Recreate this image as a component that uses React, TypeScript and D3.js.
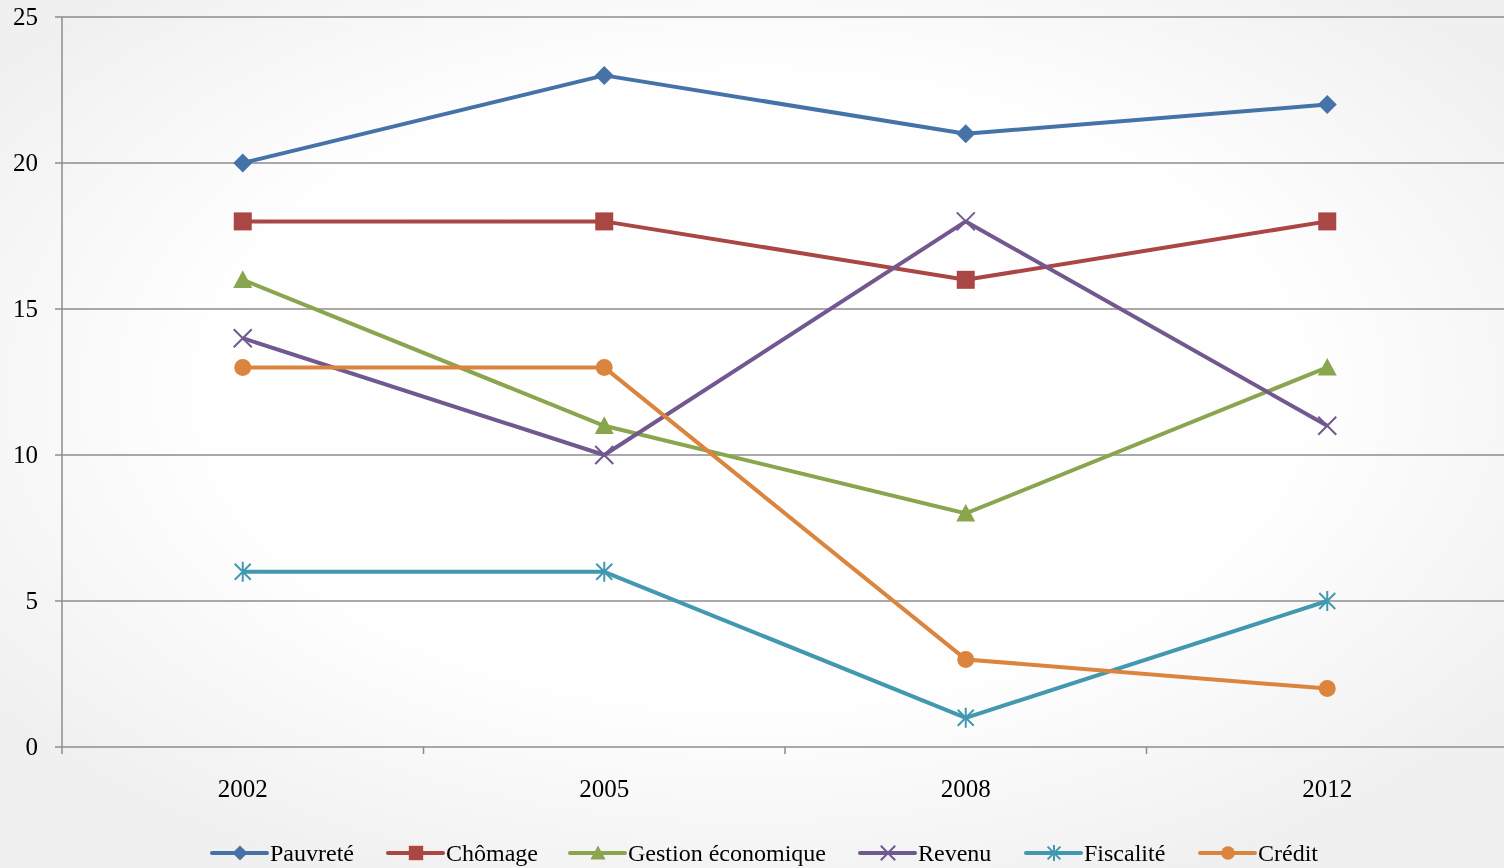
import * as React from 'react';
import * as d3 from 'd3';

const YEARS = ['2002', '2005', '2008', '2012'];
const Y_TICKS = [0, 5, 10, 15, 20, 25];

const SERIES_NAMES = ['Pauvreté', 'Chômage', 'Gestion économique', 'Revenu', 'Fiscalité', 'Crédit'];
const PAUVRETE = [20, 23, 21, 22];
const CHOMAGE = [18, 18, 16, 18];
const GESTION = [16, 11, 8, 13];
const REVENU = [14, 10, 18, 11];
const FISCALITE = [6, 6, 1, 5];
const CREDIT = [13, 13, 3, 2];

const COLORS = ['#4572a7', '#aa4643', '#89a54e', '#71588f', '#4198af', '#db843d'];
const MARKERS = ['diamond', 'square', 'triangle', 'x', 'star', 'circle'];
const LEGEND_X = [212, 388, 570, 860, 1026, 1200];

const WIDTH = 1504;
const HEIGHT = 868;
const FONT = '"Liberation Serif", "Times New Roman", serif';

const drawMarker = (
    g: d3.Selection<SVGGElement, unknown, null, undefined>,
    kind: string,
    cx: number,
    cy: number,
    color: string,
    k = 1
) => {
    if (kind === 'diamond') {
        const r = 9.5 * k;
        g.append('path')
            .attr('d', `M${cx},${cy - r}L${cx + r},${cy}L${cx},${cy + r}L${cx - r},${cy}Z`)
            .attr('fill', color);
    } else if (kind === 'square') {
        const r = 9 * k;
        g.append('rect')
            .attr('x', cx - r)
            .attr('y', cy - r)
            .attr('width', 2 * r)
            .attr('height', 2 * r)
            .attr('fill', color);
    } else if (kind === 'triangle') {
        const r = 9.5 * k;
        g.append('path')
            .attr('d', `M${cx},${cy - r}L${cx + r},${cy + r * 0.85}L${cx - r},${cy + r * 0.85}Z`)
            .attr('fill', color);
    } else if (kind === 'x') {
        const r = 9 * k;
        g.append('path')
            .attr('d', `M${cx - r},${cy - r}L${cx + r},${cy + r}M${cx - r},${cy + r}L${cx + r},${cy - r}`)
            .attr('stroke', color)
            .attr('stroke-width', 2);
    } else if (kind === 'star') {
        const r = 8 * k;
        g.append('path')
            .attr(
                'd',
                `M${cx - r},${cy - r}L${cx + r},${cy + r}M${cx - r},${cy + r}L${cx + r},${cy - r}M${cx},${cy - r * 1.25}L${cx},${cy + r * 1.25}`
            )
            .attr('stroke', color)
            .attr('stroke-width', 2);
    } else {
        g.append('circle').attr('cx', cx).attr('cy', cy).attr('r', 8.5 * k).attr('fill', color);
    }
};

export default function App() {
    const svgRef = React.useRef<SVGSVGElement>(null);

    React.useEffect(() => {
        const svg = d3.select(svgRef.current);
        svg.selectAll('*').remove();

        const SERIES = [PAUVRETE, CHOMAGE, GESTION, REVENU, FISCALITE, CREDIT];

        /** background */
        const defs = svg.append('defs');
        const grad = defs
            .append('radialGradient')
            .attr('id', 'bg')
            .attr('cx', '50%')
            .attr('cy', '45%')
            .attr('r', '62%');
        grad.append('stop').attr('offset', '0%').attr('stop-color', '#ffffff');
        grad.append('stop').attr('offset', '60%').attr('stop-color', '#fefefe');
        grad.append('stop').attr('offset', '100%').attr('stop-color', '#f0f0f0');
        svg.append('rect').attr('width', WIDTH).attr('height', HEIGHT).attr('fill', 'url(#bg)');

        /** scales */
        const x = d3.scaleBand<string>().domain(YEARS).range([62, 1508]);
        const y = d3.scaleLinear().domain([0, 25]).range([747, 17]);
        const cx = (d: string) => x(d)! + x.bandwidth() / 2;

        /** grid */
        const grid = svg.append('g');
        grid.selectAll('line')
            .data(Y_TICKS)
            .enter()
            .append('line')
            .attr('x1', 55)
            .attr('x2', WIDTH)
            .attr('y1', (d) => y(d))
            .attr('y2', (d) => y(d))
            .attr('stroke', '#8c8c8c')
            .attr('stroke-width', 1.5);

        grid.selectAll('text')
            .data(Y_TICKS)
            .enter()
            .append('text')
            .attr('x', 38)
            .attr('y', (d) => y(d) + 8)
            .attr('text-anchor', 'end')
            .attr('font-family', FONT)
            .attr('font-size', 25)
            .attr('fill', '#000')
            .text((d) => d);

        /** axes */
        svg.append('line')
            .attr('x1', 62)
            .attr('x2', 62)
            .attr('y1', y(25))
            .attr('y2', y(0) + 7)
            .attr('stroke', '#8c8c8c')
            .attr('stroke-width', 1.5);

        svg.append('g')
            .selectAll('line')
            .data(YEARS.slice(1))
            .enter()
            .append('line')
            .attr('x1', (d) => x(d)!)
            .attr('x2', (d) => x(d)!)
            .attr('y1', y(0))
            .attr('y2', y(0) + 7)
            .attr('stroke', '#8c8c8c')
            .attr('stroke-width', 1.5);

        svg.append('g')
            .selectAll('text')
            .data(YEARS)
            .enter()
            .append('text')
            .attr('x', (d) => cx(d))
            .attr('y', 797)
            .attr('text-anchor', 'middle')
            .attr('font-family', FONT)
            .attr('font-size', 25)
            .attr('fill', '#000')
            .text((d) => d);

        /** lines */
        const line = d3
            .line<number>()
            .x((_, i) => cx(YEARS[i]))
            .y((d) => y(d));

        SERIES.forEach((vals, s) => {
            const g = svg.append('g');
            g.append('path')
                .datum(vals)
                .attr('d', line)
                .attr('fill', 'none')
                .attr('stroke', COLORS[s])
                .attr('stroke-width', 4)
                .attr('stroke-linejoin', 'round');
            vals.forEach((v, i) => drawMarker(g, MARKERS[s], cx(YEARS[i]), y(v), COLORS[s]));
        });

        /** legend */
        const LY = 853;
        SERIES_NAMES.forEach((name, s) => {
            const g = svg.append('g');
            const lx = LEGEND_X[s];
            g.append('line')
                .attr('x1', lx)
                .attr('x2', lx + 55)
                .attr('y1', LY)
                .attr('y2', LY)
                .attr('stroke', COLORS[s])
                .attr('stroke-width', 4)
                .attr('stroke-linecap', 'round');
            drawMarker(g, MARKERS[s], lx + 28, LY, COLORS[s], 0.8);
            g.append('text')
                .attr('x', lx + 58)
                .attr('y', LY + 8)
                .attr('font-family', FONT)
                .attr('font-size', 24)
                .attr('fill', '#000')
                .text(name);
        });
    }, []);

    return (
        <svg
            ref={svgRef}
            width={WIDTH}
            height={HEIGHT}
            style={{ position: 'fixed', left: 0, top: 0, display: 'block' }}
        />
    );
}
